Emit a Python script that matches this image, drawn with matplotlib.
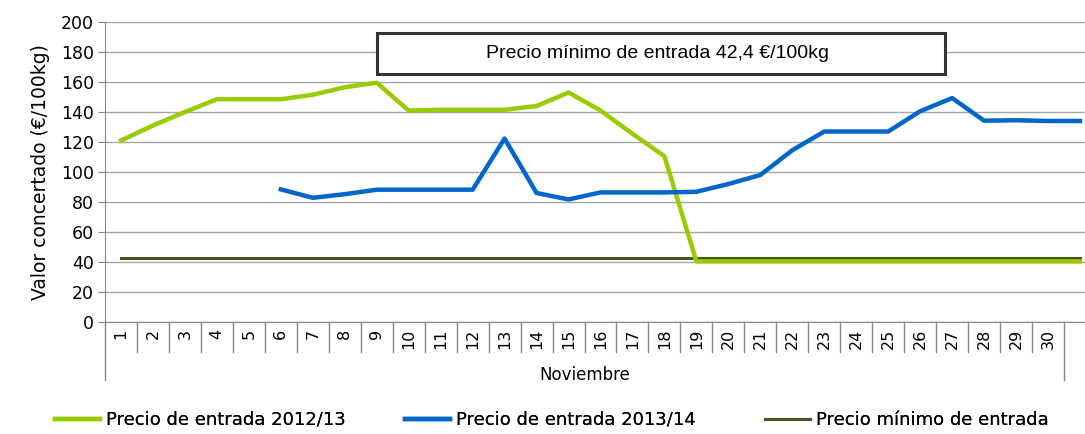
import matplotlib
matplotlib.use("Agg")
import matplotlib.pyplot as plt
from matplotlib.patches import Rectangle
import matplotlib.transforms as mtransforms
import numpy as np

# days of November (31 cells, the last one has no label)
days = np.arange(1, 32)
day_labels = [str(d) for d in range(1, 31)] + [""]

# Precio de entrada 2012/13
precio_2012 = [121, 131, 140, 148.5, 148.5, 148.5, 151.5, 156.5, 159.5, 141, 141.5,
               141.5, 141.5, 144, 153, 141, 125.5, 110.5, 40.4, 40.4, 40.4, 40.4,
               40.4, 40.4, 40.4, 40.4, 40.4, 40.4, 40.4, 40.4, 40.4]

# Precio de entrada 2013/14 (starts on day 6)
days_2013 = np.arange(6, 32)
precio_2013 = [88.4, 82.8, 85.2, 88.2, 88.2, 88.2, 88.2, 122.3, 86, 81.7, 86.4,
               86.4, 86.4, 86.8, 92, 98, 114.5, 127, 127, 127, 140.5, 149.3,
               134.2, 134.5, 134, 134]

# Precio mínimo de entrada
precio_minimo = [42.4] * 31

green = "#99CC00"
blue = "#0066CC"
olive = "#4B5320"
axis_gray = "#868686"

plt.rcParams["font.family"] = ["DejaVu Sans"]

fig = plt.figure(figsize=(10.85, 4.34), dpi=100)
W, H = 1085, 434
ax = fig.add_axes([105 / W, (H - 322) / H, (1096 - 105) / W, 300 / H])

l_min, = ax.plot(days, precio_minimo, color=olive, lw=2.2, zorder=3)
l_12, = ax.plot(days, precio_2012, color=green, lw=3.2, zorder=4)
l_13, = ax.plot(days_2013, precio_2013, color=blue, lw=3.2, zorder=5)

ax.set_xlim(0.5, 31.5)
ax.set_ylim(0, 200)
ax.set_yticks(np.arange(0, 201, 20))
ax.yaxis.grid(True, color="#A6A6A6", lw=1)
ax.set_axisbelow(True)
for s in ["top", "right"]:
    ax.spines[s].set_visible(False)
ax.spines["left"].set_color(axis_gray)
ax.spines["bottom"].set_color(axis_gray)
ax.tick_params(axis="y", length=5, color=axis_gray, labelsize=12.5, pad=3)

ax.set_xticks(days)
ax.set_xticklabels(day_labels, rotation=90, fontsize=11.5)
ax.tick_params(axis="x", length=0, pad=5)

# category separators under the axis
trans = mtransforms.blended_transform_factory(ax.transData, ax.transAxes)
for b in np.arange(1.5, 30.5, 1):
    ax.plot([b, b], [0, -0.1], color=axis_gray, lw=1, transform=trans, clip_on=False)
for b in [0.5, 30.5]:
    ax.plot([b, b], [0, -0.193], color=axis_gray, lw=1, transform=trans, clip_on=False)
ax.text(15.5, -0.177, "Noviembre", transform=trans, ha="center", va="center", fontsize=12)

ax.set_ylabel("Valor concertado (€/100kg)", fontsize=13.5, labelpad=8)

# box with the minimum price
fig.patches.append(Rectangle((377 / W, (H - 74) / H), 568 / W, 41 / H, transform=fig.transFigure,
                             facecolor="white", edgecolor="#333333", lw=2.2, zorder=6))
fig.text(657.5 / W, 1 - 53.5 / H, "Precio mínimo de entrada 42,4 €/100kg",
         family="Liberation Sans", fontsize=14, ha="center", va="center", zorder=7)

# legend entries placed one by one, as in the original
entries = [(l_12, "Precio de entrada 2012/13", 55),
           (l_13, "Precio de entrada 2013/14", 405),
           (l_min, "Precio mínimo de entrada", 765)]
for handle, text, x0 in entries:
    leg = fig.legend([handle], [text], loc="center left",
                     bbox_to_anchor=(x0 / W, 1 - 420 / H), frameon=False,
                     fontsize=13, handlelength=2.5, handletextpad=0.3,
                     borderaxespad=0, borderpad=0)
    fig.add_artist(leg)

fig.savefig("out.png", dpi=100)
